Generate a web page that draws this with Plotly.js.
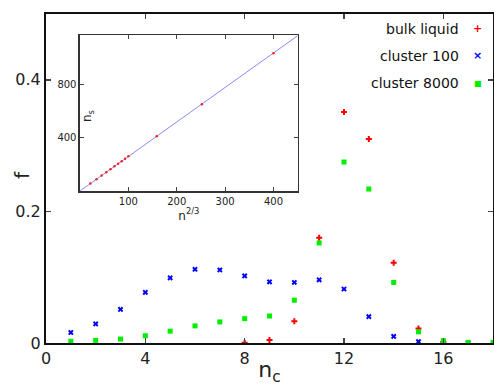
<!DOCTYPE html>
<html><head><meta charset="utf-8">
<script src="https://cdn.plot.ly/plotly-3.0.1.min.js"></script>
<style>html,body{margin:0;padding:0;background:#fff}#chart{width:494px;height:386px}</style>
</head><body><div id="chart"></div>
<script>
// main chart data
var nc_bulk = [8, 9, 10, 11, 12, 13, 14, 15, 16];
var f_bulk = [0.0005, 0.0045, 0.033, 0.160, 0.351, 0.310, 0.122, 0.022, 0.0015];
var nc_c100 = [1, 2, 3, 4, 5, 6, 7, 8, 9, 10, 11, 12, 13, 14, 15, 16, 17];
var f_c100 = [0.016, 0.029, 0.051, 0.077, 0.099, 0.112, 0.111, 0.102, 0.093, 0.092, 0.096, 0.082, 0.040, 0.010, 0.002, 0.0005, 0.0002];
var nc_c8000 = [1, 2, 3, 4, 5, 6, 7, 8, 9, 10, 11, 12, 13, 14, 15, 16, 17, 18];
var f_c8000 = [0.0026, 0.004, 0.006, 0.011, 0.018, 0.026, 0.032, 0.037, 0.041, 0.065, 0.152, 0.275, 0.234, 0.092, 0.017, 0.0035, 0.001, 0.001];
var xTicks = [0, 4, 8, 12, 16];
var yTicks = [0, 0.2, 0.4];
var yTickText = ["0", "0.2", "0.4"];
// inset data
var inset_x = [21.5, 34.2, 44.8, 54.3, 63.0, 71.1, 78.8, 86.2, 93.2, 100, 158.7, 252, 400];
var inset_y = [56, 89, 117, 141, 164, 185, 205, 224, 242, 260, 410, 650, 1033];
var fit_x = [0, 450];
var fit_y = [0, 1165];
var insetXTicks = [100, 200, 300, 400];
var insetYTicks = [400, 800];
var legendNames = ["bulk liquid", "cluster 100", "cluster 8000"];
var legendGlyphs = ["+", "\u00d7", "\u25a0"];
var colors = ["#ff0000", "#0000ff", "#00ee00"];

var FONT = "DejaVu Sans, sans-serif";
var traces = [
  {x: nc_bulk, y: f_bulk, type: "scatter", mode: "markers", name: legendNames[0],
   marker: {symbol: "cross", size: 5, color: colors[0]}},
  {x: nc_c100, y: f_c100, type: "scatter", mode: "markers", name: legendNames[1],
   marker: {symbol: "x", size: 5, color: colors[1]}},
  {x: nc_c8000, y: f_c8000, type: "scatter", mode: "markers", name: legendNames[2],
   marker: {symbol: "square", size: 5, color: colors[2]}},
  {x: fit_x, y: fit_y, type: "scatter", mode: "lines", xaxis: "x2", yaxis: "y2",
   line: {color: "#8888ff", width: 1}, showlegend: false},
  {x: inset_x, y: inset_y, type: "scatter", mode: "markers", xaxis: "x2", yaxis: "y2",
   marker: {symbol: "circle", size: 2.5, color: "#ff2020"}, showlegend: false}
];

var annotations = [];
var legY = [0.955, 0.873, 0.79];
for (var i = 0; i < 3; i++) {
  annotations.push({xref: "paper", yref: "paper", x: 0.928, y: legY[i], xanchor: "right", yanchor: "middle",
    text: legendNames[i], showarrow: false, font: {family: FONT, size: 14, color: "#111"}});
  annotations.push({xref: "paper", yref: "paper", x: 0.966, y: legY[i], xanchor: "center", yanchor: "middle",
    text: "<b>" + legendGlyphs[i] + "</b>", showarrow: false, font: {family: FONT, size: i == 2 ? 8 : 11, color: colors[i]}});
}
// main y title "f"
annotations.push({xref: "paper", yref: "paper", x: -0.054, y: 0.51, xanchor: "center", yanchor: "middle",
  text: "f", textangle: -90, showarrow: false, font: {family: FONT, size: 20, color: "#222"}});
// inset y title "n_s" (drawn just inside the inset frame)
annotations.push({xref: "paper", yref: "paper", x: 0.094, y: 0.69, xanchor: "center", yanchor: "middle",
  text: "n<sub>s</sub>", textangle: -90, showarrow: false, font: {family: FONT, size: 12, color: "#222"}});

var layout = {
  width: 494, height: 386,
  margin: {l: 46, r: 1, t: 14, b: 43},
  paper_bgcolor: "#fff", plot_bgcolor: "#fff",
  showlegend: false,
  font: {family: FONT, color: "#222"},
  xaxis: {range: [0, 18], tickvals: xTicks, ticks: "inside", ticklen: 5, tickwidth: 1.5,
    showline: true, linewidth: 2, linecolor: "#111", mirror: "ticks", showgrid: false, zeroline: false,
    tickfont: {size: 16, family: FONT},
    title: {text: "n<sub>c</sub>", font: {size: 22, family: FONT}, standoff: 4}},
  yaxis: {range: [0, 0.5], tickvals: yTicks, ticktext: yTickText, ticks: "inside", ticklen: 5, tickwidth: 1.5,
    showline: true, linewidth: 2, linecolor: "#111", mirror: "ticks", showgrid: false, zeroline: false,
    tickfont: {size: 16, family: FONT}},
  xaxis2: {domain: [0.076, 0.563], anchor: "y2", range: [0, 450], tickvals: insetXTicks,
    ticks: "inside", ticklen: 4, showline: true, linewidth: 1.5, linecolor: "#333", mirror: "ticks",
    showgrid: false, zeroline: false, tickfont: {size: 10, family: FONT},
    title: {text: "n<sup>2/3</sup>", font: {size: 12, family: FONT}, standoff: 2}},
  yaxis2: {domain: [0.462, 0.936], anchor: "x2", range: [0, 1170], tickvals: insetYTicks,
    ticks: "inside", ticklen: 4, showline: true, linewidth: 1.5, linecolor: "#333", mirror: "ticks",
    showgrid: false, zeroline: false, tickfont: {size: 10, family: FONT}},
  annotations: annotations
};
Plotly.newPlot("chart", traces, layout, {displayModeBar: false, staticPlot: true});
</script></body></html>
